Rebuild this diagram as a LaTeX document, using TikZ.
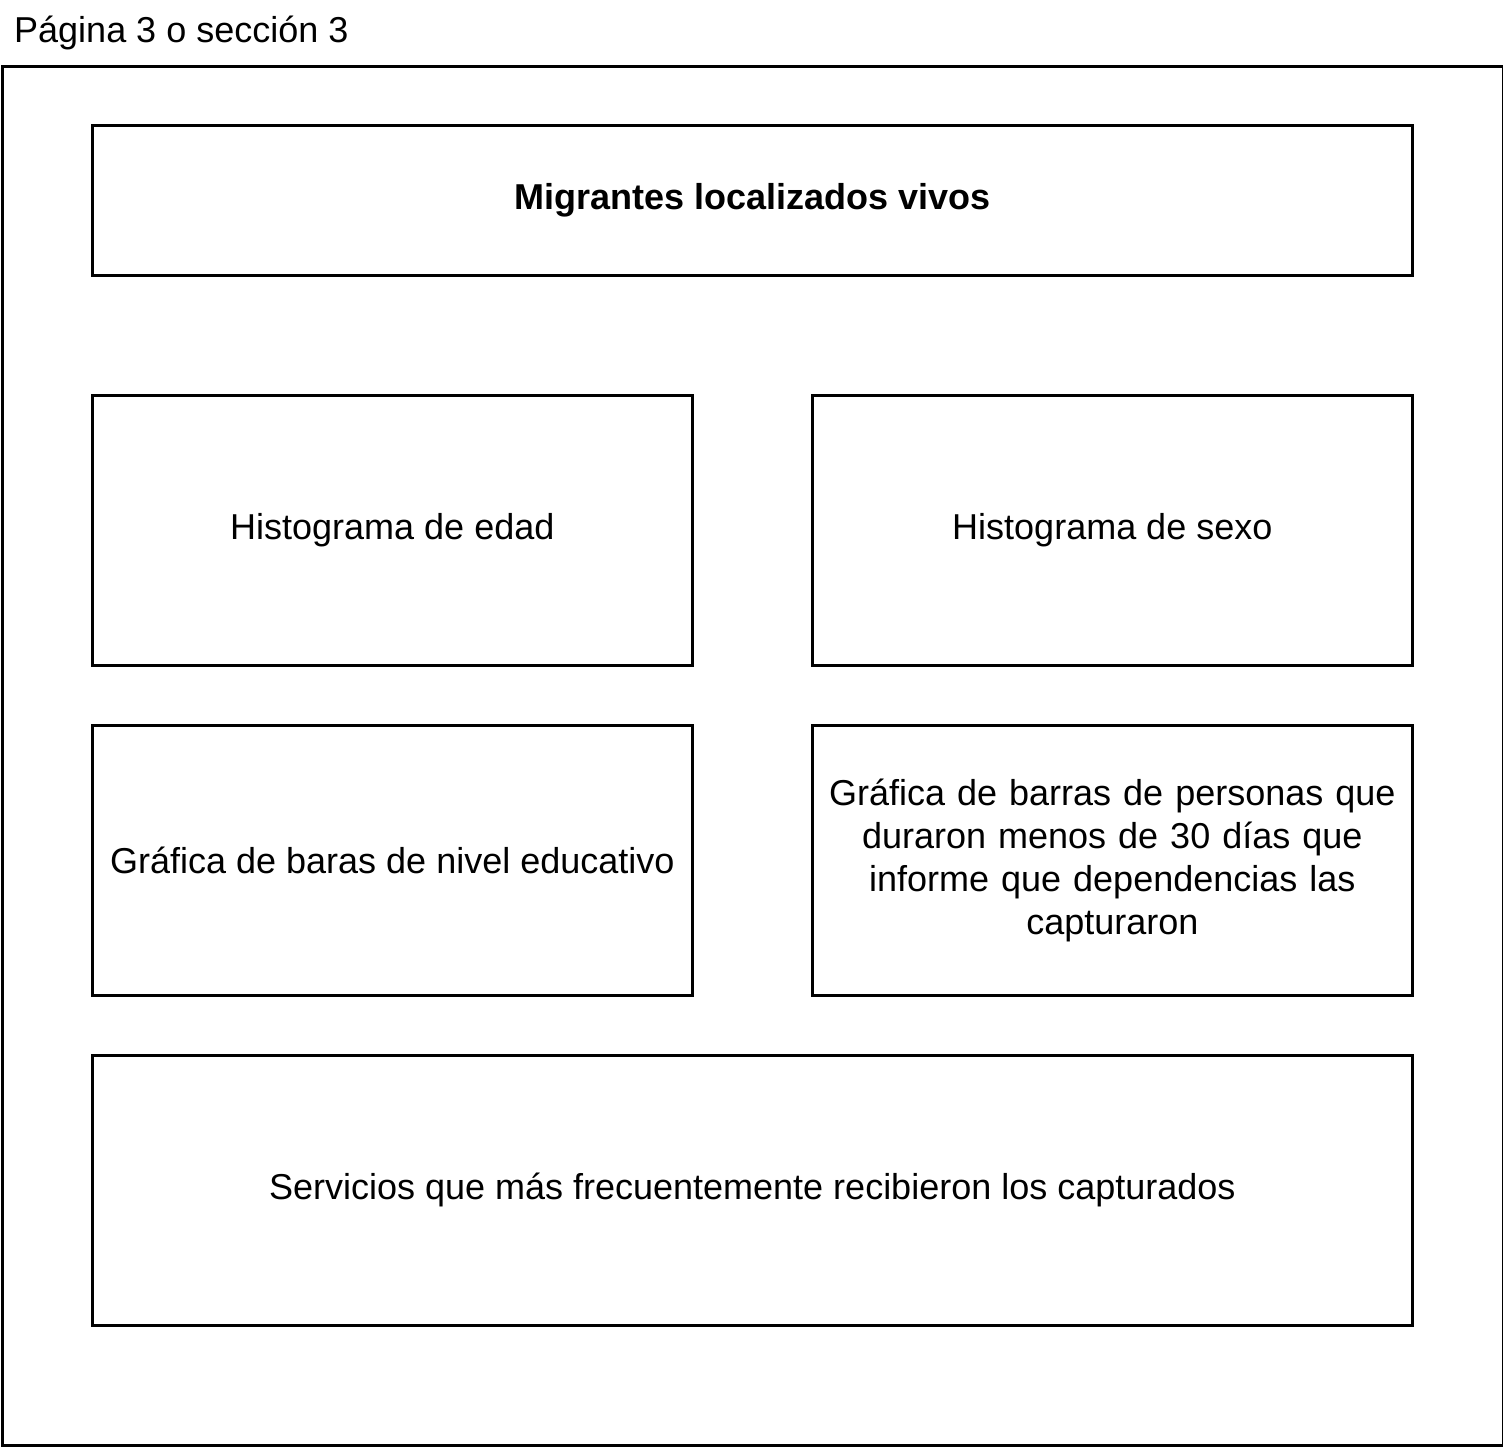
\documentclass[tikz,border=0pt]{standalone}
\usepackage{fontspec}
\setmainfont{Liberation Sans}
\begin{document}
\begin{tikzpicture}[x=1pt,y=-1pt,
  panel/.style={draw=black,line width=2.6pt,anchor=north west,inner sep=0pt,
    font=\fontsize{36}{43}\selectfont,align=center}]
\useasboundingbox (0,0) rectangle (1503,1446);
\node[anchor=base west,inner sep=0pt,font=\fontsize{36}{40}\selectfont] (lbl) at (14,42) {Página 3 o sección 3};
\node[panel,minimum width=1501pt,minimum height=1379pt] (outer) at (1,65) {};
\node[panel,minimum width=1320pt,minimum height=150pt,font=\fontsize{36}{40}\selectfont\bfseries] (title) at (91,124) {Migrantes localizados vivos};
\node[panel,minimum width=600pt,minimum height=270pt] (edad) at (91,394) {Histograma de edad};
\node[panel,minimum width=600pt,minimum height=270pt] (sexo) at (811,394) {Histograma de sexo};
\node[panel,minimum width=600pt,minimum height=270pt] (educ) at (91,724) {Gráfica de baras de nivel educativo};
\node[panel,minimum width=600pt,minimum height=270pt,text width=590pt] (dep) at (811,724) {Gráfica de barras de personas que\\duraron menos de 30 días que\\informe que dependencias las\\capturaron};
\node[panel,minimum width=1320pt,minimum height=270pt] (serv) at (91,1054) {Servicios que más frecuentemente recibieron los capturados};
\end{tikzpicture}
\end{document}
